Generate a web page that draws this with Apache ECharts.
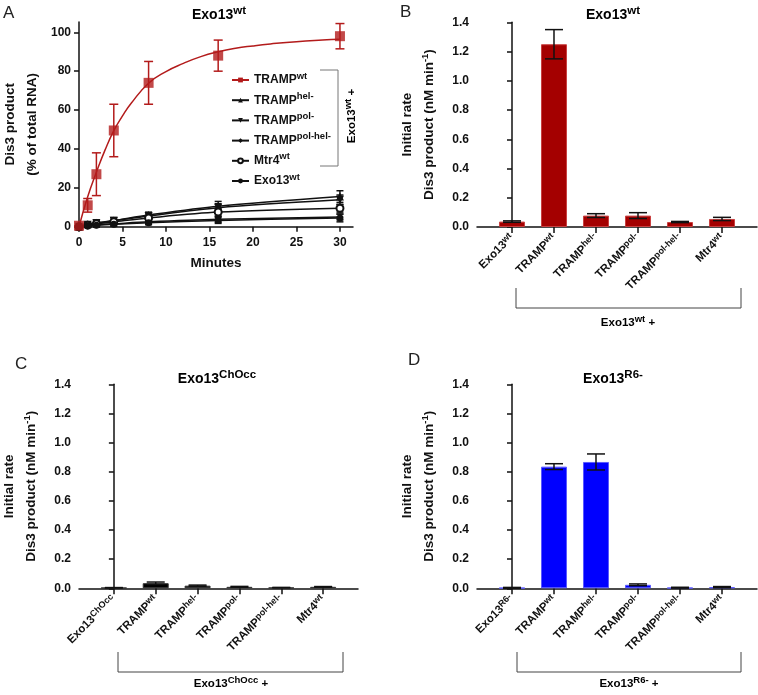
<!DOCTYPE html>
<html>
<head>
<meta charset="utf-8">
<script src="https://cdn.jsdelivr.net/npm/echarts@6/dist/echarts.min.js"></script>
<style>
html, body { margin: 0; padding: 0; background: #fff; }
#chart { width: 758px; height: 695px; }
</style>
</head>
<body>
<div id="chart"></div>
<script>
// ---- 数据 A: Dis3 product (% of total RNA) vs minutes
var minutes = [0, 1, 2, 4, 8, 16, 30];
var trampWt = [0.5, 11, 27, 49.5, 74, 88, 98];
var trampWtErr = [0, 3.5, 11, 13.5, 11, 8, 6.5];
// fitted curve
var trampWtFitX = [0, 1, 2, 3, 4, 5, 6, 8, 10, 12, 14, 16, 18, 20, 22, 25, 28, 30];
var trampWtFitY = [0, 15.4, 28, 39.5, 49.4, 57, 63.5, 73.8, 79.8, 84, 87.5, 90, 91.8, 93, 94, 95.2, 96, 96.4];
var trampHel = [0, 1.2, 2, 3.2, 6, 10.5, 15.5];
var trampHelErr = [0, 1, 1.5, 1.5, 1.5, 2.5, 3];
var trampPol = [0, 1, 1.8, 3, 5.5, 9.8, 13.8];
var trampPolErr = [0, 1, 1.5, 1.5, 1.5, 2, 2.5];
var trampPolHel = [0, 0.5, 1, 1.5, 2.5, 3.8, 5];
var trampPolHelErr = [0, 0.5, 1, 1, 1, 1.5, 1.5];
var mtr4Wt = [0, 0.8, 1.5, 2.5, 4.5, 7.5, 9.5];
var mtr4WtErr = [0, 0.5, 1, 1, 1.5, 2, 2];
var exo13Wt = [0, 0.5, 0.8, 1.2, 2, 3.2, 4.5];
var exo13WtErr = [0, 0.5, 1, 1, 1, 1.5, 2];
var yTicksA = [0, 20, 40, 60, 80, 100];
var xTicksA = [0, 5, 10, 15, 20, 25, 30];

// ---- 数据 B/C/D: initial rate (nM min-1)
var catIdx = [0, 1, 2, 3, 4, 5];
var catRest = [['TRAMP', 'wt'], ['TRAMP', 'hel-'], ['TRAMP', 'pol-'], ['TRAMP', 'pol-hel-'], ['Mtr4', 'wt']];
var catB = [['Exo13', 'wt']].concat(catRest);
var catC = [['Exo13', 'ChOcc']].concat(catRest);
var catD = [['Exo13', 'R6-']].concat(catRest);
var rateB = [0.037, 1.25, 0.078, 0.078, 0.034, 0.055];
var rateBErr = [0.005, 0.1, 0.013, 0.02, 0.004, 0.011];
var rateC = [0.004, 0.035, 0.018, 0.01, 0.005, 0.01];
var rateCErr = [0.001, 0.008, 0.004, 0.003, 0.001, 0.002];
var rateD = [0.003, 0.835, 0.867, 0.024, 0.004, 0.008];
var rateDErr = [0.003, 0.02, 0.055, 0.006, 0.003, 0.004];

var FONT = 'Liberation Sans, Arial, Helvetica, sans-serif';
var INK = '#111';
var RED_A = '#B31B1B';

// 上标: 'b' 正文, 's' 上标 (底部 padding 把上标往上推 raise 像素)
function rich(size, supSize, lh, raise) {
    return {
        b: { fontSize: size, fontWeight: 'bold', color: INK, fontFamily: FONT, lineHeight: lh },
        s: { fontSize: supSize, fontWeight: 'bold', color: INK, fontFamily: FONT, padding: [0, 0, 2 * raise, 0] }
    };
}
function sup(base, s) { return '{b|' + base + '}{s|' + s + '}'; }

function pairs(xs, ys) { return xs.map(function (x, i) { return [x, ys[i]]; }); }
function errPairs(xs, ys, es) { return xs.map(function (x, i) { return [x, ys[i] - es[i], ys[i] + es[i]]; }); }

function errorBar(capHalf, color) {
    return function (params, api) {
        var x = api.value(0);
        var top = api.coord([x, api.value(2)]);
        var bot = api.coord([x, api.value(1)]);
        var st = { stroke: color, lineWidth: 1.5 };
        return {
            type: 'group',
            children: [
                { type: 'line', shape: { x1: top[0], y1: top[1], x2: bot[0], y2: bot[1] }, style: st },
                { type: 'line', shape: { x1: top[0] - capHalf, y1: top[1], x2: top[0] + capHalf, y2: top[1] }, style: st },
                { type: 'line', shape: { x1: bot[0] - capHalf, y1: bot[1], x2: bot[0] + capHalf, y2: bot[1] }, style: st }
            ]
        };
    };
}

var axisLine = { show: true, lineStyle: { color: INK, width: 1.5 } };
var axisTick = { show: true, length: 5, lineStyle: { color: INK, width: 1.5 } };
var tickLabel = { color: INK, fontSize: 12, fontWeight: 'bold', fontFamily: FONT };

function rateYAxis(grid) {
    var r = rich(13.5, 9.5, 22, 4.5);
    return {
        type: 'value', gridIndex: grid, min: 0, max: 1.4, interval: 0.2,
        name: '{b|Initial rate}\n{b|Dis3 product (nM min}{s|-1}{b|)}',
        nameLocation: 'middle', nameRotate: 90, nameGap: 36.5,
        nameTextStyle: { rich: r },
        axisLine: axisLine, axisTick: axisTick, splitLine: { show: false },
        axisLabel: Object.assign({ margin: 8, formatter: function (v) { return v.toFixed(1); } }, tickLabel)
    };
}
function rateXAxis(grid, cats) {
    return {
        type: 'value', gridIndex: grid, min: -0.833, max: 5.833,
        axisLine: axisLine, splitLine: { show: false },
        axisTick: { show: true, length: 6, customValues: catIdx, lineStyle: { color: INK, width: 1.5 } },
        axisLabel: {
            customValues: catIdx, rotate: 45, margin: 9,
            formatter: function (v) { var c = cats[Math.round(v)]; return sup(c[0], c[1]); },
            rich: rich(11.5, 9, 14, 2.5)
        }
    };
}
function barSeries(axis, values, color, border) {
    return {
        type: 'bar', xAxisIndex: axis, yAxisIndex: axis, barWidth: 26, z: 2,
        itemStyle: { color: color, borderColor: border, borderWidth: 1 },
        data: pairs(catIdx, values)
    };
}
function barErr(axis, values, errs) {
    return {
        type: 'custom', xAxisIndex: axis, yAxisIndex: axis, z: 4,
        encode: { x: 0, y: [1, 2] },
        renderItem: errorBar(9, INK),
        data: errPairs(catIdx, values, errs)
    };
}

var blackSeries = [
    { name: 'TRAMP^hel-', data: trampHel, err: trampHelErr, symbol: 'triangle', size: 8, rotate: 0 },
    { name: 'TRAMP^pol-', data: trampPol, err: trampPolErr, symbol: 'triangle', size: 8, rotate: 180 },
    { name: 'TRAMP^pol-hel-', data: trampPolHel, err: trampPolHelErr, symbol: 'diamond', size: 7, rotate: 0 },
    { name: 'Mtr4^wt', data: mtr4Wt, err: mtr4WtErr, symbol: 'emptyCircle', size: 7, rotate: 0 },
    { name: 'Exo13^wt', data: exo13Wt, err: exo13WtErr, symbol: 'circle', size: 7, rotate: 0 }
];

var series = [
    {
        name: 'TRAMP^wt', type: 'line', xAxisIndex: 0, yAxisIndex: 0, smooth: true,
        symbol: 'rect', symbolSize: 10, showSymbol: false, z: 3,
        lineStyle: { color: RED_A, width: 1.5 }, itemStyle: { color: RED_A },
        data: pairs(trampWtFitX, trampWtFitY)
    },
    {
        name: 'TRAMP^wt', type: 'scatter', xAxisIndex: 0, yAxisIndex: 0,
        symbol: 'rect', symbolSize: 10, z: 4, itemStyle: { color: RED_A },
        data: pairs(minutes, trampWt)
    },
    {
        type: 'custom', xAxisIndex: 0, yAxisIndex: 0, z: 2, encode: { x: 0, y: [1, 2] },
        renderItem: errorBar(4.5, RED_A), data: errPairs(minutes, trampWt, trampWtErr)
    }
];
blackSeries.forEach(function (s) {
    series.push({
        name: s.name, type: 'line', xAxisIndex: 0, yAxisIndex: 0, smooth: 0.3,
        symbol: s.symbol, symbolSize: s.size, symbolRotate: s.rotate, z: 3,
        lineStyle: { color: INK, width: 1.5 },
        itemStyle: { color: INK, borderWidth: 1.5 },
        data: pairs(minutes, s.data)
    });
    series.push({
        type: 'custom', xAxisIndex: 0, yAxisIndex: 0, z: 2, encode: { x: 0, y: [1, 2] },
        renderItem: errorBar(3.5, INK), data: errPairs(minutes, s.data, s.err)
    });
});
series.push(barSeries(1, rateB, '#A40000', '#C94040'), barErr(1, rateB, rateBErr));
series.push(barSeries(2, rateC, '#000', '#333'), barErr(2, rateC, rateCErr));
series.push(barSeries(3, rateD, '#0000FF', '#5A5AFF'), barErr(3, rateD, rateDErr));

function label(x, y, text, r, rot) {
    return {
        type: 'text', x: x, y: y, rotation: rot || 0, z: 10,
        style: { text: text, rich: r, align: 'center', verticalAlign: 'middle' }
    };
}
function letter(x, y, t) {
    return { type: 'text', x: x, y: y, z: 10, style: { text: t, fontSize: 17, fontFamily: FONT, fill: '#222' } };
}
function bracket(x1, x2, y1, y2) {
    return {
        type: 'polyline', z: 10,
        shape: { points: [[x1, y1], [x1, y2], [x2, y2], [x2, y1]] },
        style: { stroke: '#444', lineWidth: 1, fill: null }
    };
}

var titleRich = rich(14, 11.5, 20, 4.5);
var bracketRich = rich(11.5, 9.5, 16, 4);

var option = {
    animation: false,
    textStyle: { fontFamily: FONT },
    grid: [
        { left: 79, top: 22, width: 274, height: 204.7, containLabel: false, outerBoundsMode: 'none' },
        { left: 477, top: 22.3, width: 280, height: 204.7, containLabel: false, outerBoundsMode: 'none' },
        { left: 79, top: 384.3, width: 279, height: 204, containLabel: false, outerBoundsMode: 'none' },
        { left: 477, top: 384.3, width: 280, height: 204, containLabel: false, outerBoundsMode: 'none' }
    ],
    legend: {
        orient: 'vertical', left: 226, top: 66, itemWidth: 17, itemHeight: 6, itemGap: 5.2,
        selectedMode: false,
        data: ['TRAMP^wt', 'TRAMP^hel-', 'TRAMP^pol-', 'TRAMP^pol-hel-', 'Mtr4^wt', 'Exo13^wt'],
        formatter: function (name) { var p = name.split('^'); return sup(p[0], p[1]); },
        textStyle: { rich: rich(12, 9.5, 18, 4) }
    },
    xAxis: [
        {
            type: 'value', gridIndex: 0, min: 0, max: 31.5,
            name: 'Minutes', nameLocation: 'middle', nameGap: 30,
            nameTextStyle: { fontSize: 13.5, fontWeight: 'bold', color: INK, fontFamily: FONT },
            axisLine: axisLine, splitLine: { show: false },
            axisTick: Object.assign({ customValues: xTicksA }, axisTick),
            axisLabel: Object.assign({ customValues: xTicksA, margin: 10 }, tickLabel)
        },
        rateXAxis(1, catB), rateXAxis(2, catC), rateXAxis(3, catD)
    ],
    yAxis: [
        {
            type: 'value', gridIndex: 0, min: 0, max: 105.3,
            name: '{a|Dis3 product}\n{a|(% of total RNA)}',
            nameLocation: 'middle', nameRotate: 90, nameGap: 36,
            nameTextStyle: { rich: { a: { fontSize: 13.5, fontWeight: 'bold', color: INK, fontFamily: FONT, lineHeight: 22 } } },
            axisLine: axisLine, splitLine: { show: false },
            axisTick: Object.assign({ customValues: yTicksA }, axisTick),
            axisLabel: Object.assign({ customValues: yTicksA, margin: 8 }, tickLabel)
        },
        rateYAxis(1), rateYAxis(2), rateYAxis(3)
    ],
    graphic: [
        letter(3, 5, 'A'), letter(400, 4, 'B'), letter(15, 356, 'C'), letter(408, 352, 'D'),
        label(219, 15, sup('Exo13', 'wt'), titleRich),
        label(613, 15, sup('Exo13', 'wt'), titleRich),
        label(217, 379, sup('Exo13', 'ChOcc'), titleRich),
        label(613, 379, sup('Exo13', 'R6-'), titleRich),
        // legend bracket in A
        {
            type: 'polyline', z: 10,
            shape: { points: [[320, 70], [338, 70], [338, 166], [320, 166]] },
            style: { stroke: '#777', lineWidth: 1, fill: null }
        },
        label(352, 116, sup('Exo13', 'wt') + '{b| +}', bracketRich, Math.PI / 2),
        bracket(516, 741, 288, 308),
        label(628, 323, sup('Exo13', 'wt') + '{b| +}', bracketRich),
        bracket(118, 343, 652, 672),
        label(231, 684, sup('Exo13', 'ChOcc') + '{b| +}', bracketRich),
        bracket(517, 741, 652, 672),
        label(629, 684, sup('Exo13', 'R6-') + '{b| +}', bracketRich)
    ],
    series: series
};

var myChart = echarts.init(document.getElementById('chart'));
myChart.setOption(option);
</script>
</body>
</html>
